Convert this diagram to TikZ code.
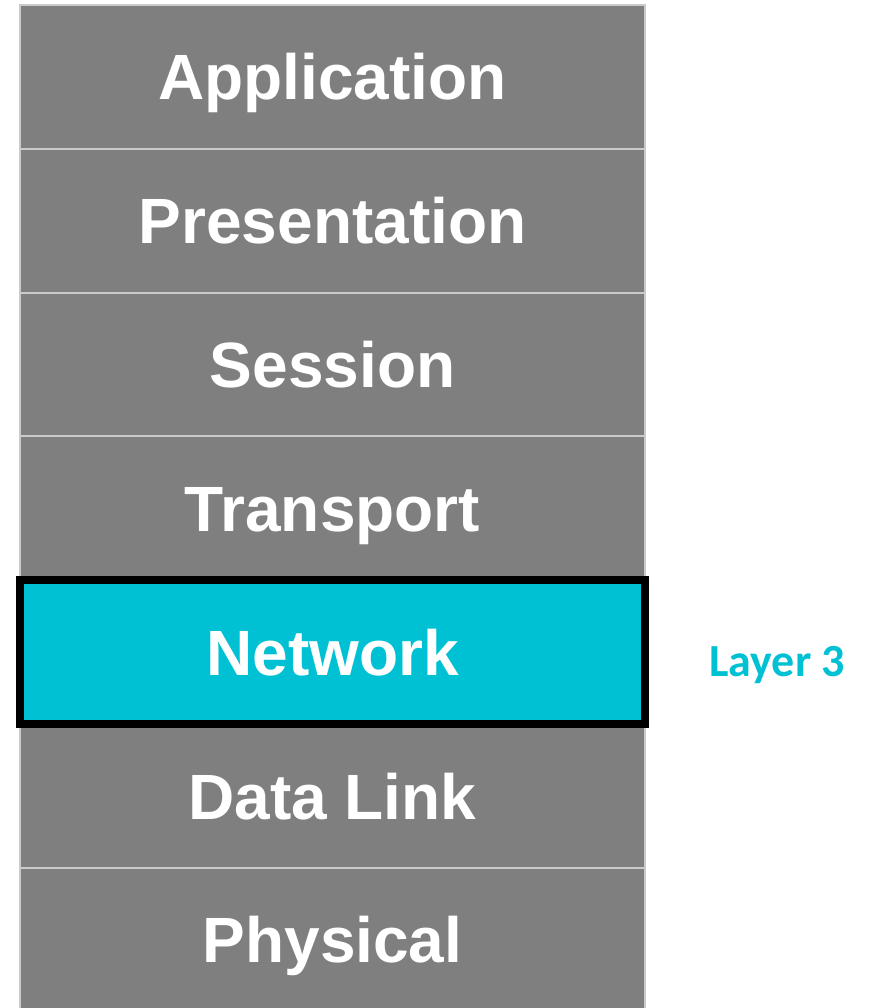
\documentclass[tikz,border=0pt]{standalone}
\usepackage{fontspec}
\setmainfont{Liberation Sans}
\newfontfamily\labelfont{Carlito}
\usetikzlibrary{positioning}
\definecolor{layergrey}{HTML}{7F7F7F}
\definecolor{edgegrey}{HTML}{CACACA}
\definecolor{netcyan}{HTML}{00C1D3}

\begin{document}
\begin{tikzpicture}[x=1pt,y=-1pt,
    layer/.style={draw=edgegrey,line width=2pt,fill=layergrey,
      minimum width=625pt,minimum height=144pt,inner sep=0pt,
      text=white,font=\fontsize{64}{64}\selectfont\bfseries,
      text height=46pt,text depth=-5pt},
    netlayer/.style={layer,draw=black,line width=8pt,fill=netcyan}]
    \useasboundingbox (0,0) rectangle (871,1008);
    \foreach \name [count=\i from 0] in {Application,Presentation,Session,Transport,Network,Data Link,Physical}
    \node[layer] (l\i) at (332.5,77+143.8*\i) {\name};
    % highlighted layer on top
    \node[netlayer] (net) at (l4) {Network};
    \node[right=60pt of net,yshift=-9pt,inner sep=0pt,text=netcyan,
      font=\labelfont\fontsize{46}{46}\selectfont\bfseries,
      text height=30pt,text depth=0pt] (lay3) {Layer 3};
  \end{tikzpicture}
\end{document}
